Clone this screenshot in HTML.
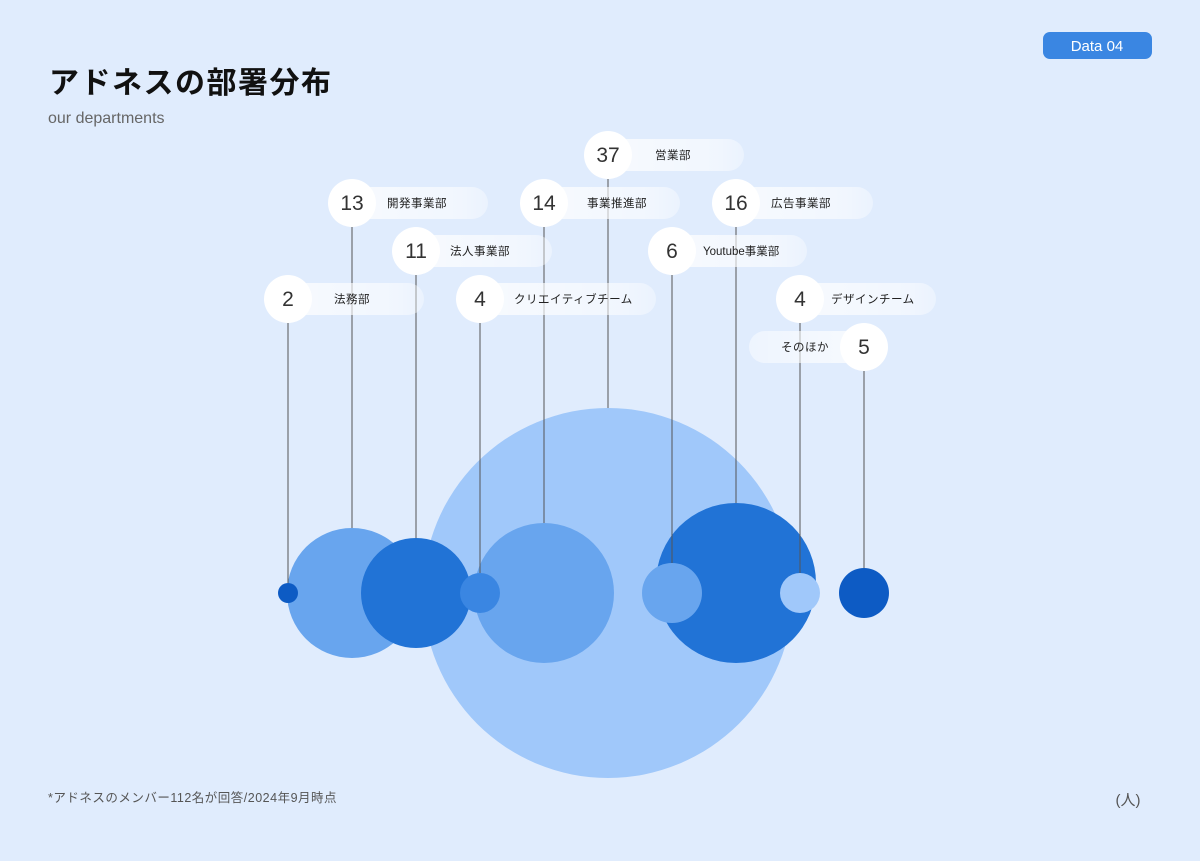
<!DOCTYPE html>
<html><head><meta charset="utf-8"><style>
html,body{margin:0;padding:0;background:#e0ecfd;}
svg{display:block;font-family:"Liberation Sans","Noto Sans CJK JP",sans-serif;}
</style></head><body>
<svg width="1200" height="861" viewBox="0 0 1200 861" xmlns="http://www.w3.org/2000/svg">
<defs>
<linearGradient id="pg" x1="0" x2="1" y1="0" y2="0">
<stop offset="0" stop-color="#ffffff" stop-opacity="0.75"/>
<stop offset="0.8" stop-color="#ffffff" stop-opacity="0.55"/>
<stop offset="1" stop-color="#ffffff" stop-opacity="0.35"/>
</linearGradient>
<linearGradient id="pgr" x1="1" x2="0" y1="0" y2="0">
<stop offset="0" stop-color="#ffffff" stop-opacity="0.75"/>
<stop offset="1" stop-color="#ffffff" stop-opacity="0.45"/>
</linearGradient>
</defs>
<rect width="1200" height="861" fill="#e0ecfd"/>
<rect x="1043" y="32" width="109" height="27" rx="7" fill="#3a86e2"/>
<text x="1097" y="51" font-size="15" fill="#fff" text-anchor="middle">Data 04</text>
<text x="49" y="93" font-size="30" font-weight="bold" fill="#111" letter-spacing="1.5">アドネスの部署分布</text>
<text x="48" y="123" font-size="16" fill="#666">our departments</text>
<text x="48" y="802" font-size="12.5" fill="#555" letter-spacing="0.5">*アドネスのメンバー112名が回答/2024年9月時点</text>
<text x="1128" y="805" font-size="15" fill="#555" text-anchor="middle">(人)</text>

<!-- bubbles -->
<circle cx="608" cy="593" r="185" fill="#a0c8fa"/>
<circle cx="352" cy="593" r="65" fill="#68a5ee"/>
<circle cx="416" cy="593" r="55" fill="#2173d6"/>
<circle cx="288" cy="593" r="10" fill="#0d5bc4"/>
<circle cx="544" cy="593" r="70" fill="#68a5ee"/>
<circle cx="480" cy="593" r="20" fill="#3a86e2"/>
<circle cx="736" cy="583" r="80" fill="#2173d6"/>
<circle cx="672" cy="593" r="30" fill="#68a5ee"/>
<circle cx="800" cy="593" r="20" fill="#a0c8fa"/>
<circle cx="864" cy="593" r="25" fill="#0d5bc4"/>

<!-- lines -->
<g stroke="#555" stroke-width="1">
<line x1="608" y1="160" x2="608" y2="408"/>
<line x1="352" y1="208" x2="352" y2="528"/>
<line x1="544" y1="208" x2="544" y2="523"/>
<line x1="736" y1="208" x2="736" y2="503"/>
<line x1="416" y1="256" x2="416" y2="538"/>
<line x1="672" y1="256" x2="672" y2="563"/>
<line x1="288" y1="304" x2="288" y2="583"/>
<line x1="480" y1="304" x2="480" y2="573"/>
<line x1="800" y1="304" x2="800" y2="573"/>
<line x1="864" y1="352" x2="864" y2="568"/>
</g>

<!-- pills -->
<g fill="url(#pg)">
<rect x="608" y="139" width="136" height="32" rx="16"/>
<rect x="352" y="187" width="136" height="32" rx="16"/>
<rect x="544" y="187" width="136" height="32" rx="16"/>
<rect x="736" y="187" width="137" height="32" rx="16"/>
<rect x="416" y="235" width="136" height="32" rx="16"/>
<rect x="672" y="235" width="135" height="32" rx="16"/>
<rect x="288" y="283" width="136" height="32" rx="16"/>
<rect x="480" y="283" width="176" height="32" rx="16"/>
<rect x="800" y="283" width="136" height="32" rx="16"/>
</g>
<rect x="749" y="331" width="115" height="32" rx="16" fill="url(#pgr)"/>

<g fill="#fff">
<circle cx="608" cy="155" r="24"/>
<circle cx="352" cy="203" r="24"/>
<circle cx="544" cy="203" r="24"/>
<circle cx="736" cy="203" r="24"/>
<circle cx="416" cy="251" r="24"/>
<circle cx="672" cy="251" r="24"/>
<circle cx="288" cy="299" r="24"/>
<circle cx="480" cy="299" r="24"/>
<circle cx="800" cy="299" r="24"/>
<circle cx="864" cy="347" r="24"/>
</g>
<g font-size="21" fill="#333" text-anchor="middle">
<text x="608" y="162">37</text>
<text x="352" y="210">13</text>
<text x="544" y="210">14</text>
<text x="736" y="210">16</text>
<text x="416" y="258">11</text>
<text x="672" y="258">6</text>
<text x="288" y="306">2</text>
<text x="480" y="306">4</text>
<text x="800" y="306">4</text>
<text x="864" y="354">5</text>
</g>
<g font-size="11.5" fill="#222" letter-spacing="0.5">
<text x="655" y="159">営業部</text>
<text x="387" y="207">開発事業部</text>
<text x="587" y="207">事業推進部</text>
<text x="771" y="207">広告事業部</text>
<text x="450" y="255">法人事業部</text>
<text x="703" y="255" letter-spacing="0">Youtube事業部</text>
<text x="334" y="303">法務部</text>
<text x="514" y="303">クリエイティブチーム</text>
<text x="831" y="303">デザインチーム</text>
<text x="781" y="351">そのほか</text>
</g>
</svg>
</body></html>
